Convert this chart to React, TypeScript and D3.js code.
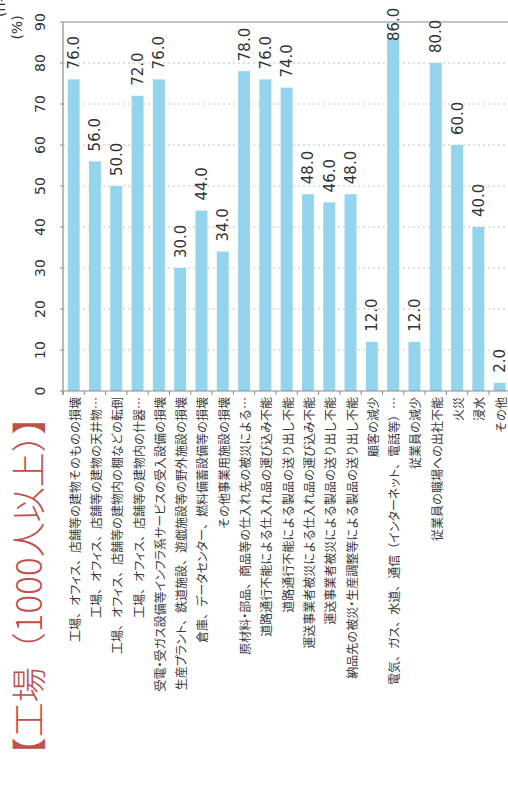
import React from "react";
import * as d3 from "d3";

const categories: string[] = [
  "工場、オフィス、店舗等の建物そのものの損壊",
  "工場、オフィス、店舗等の建物の天井物…",
  "工場、オフィス、店舗等の建物内の棚などの転倒",
  "工場、オフィス、店舗等の建物内の什器…",
  "受電・受ガス設備等インフラ系サービスの受入設備の損壊",
  "生産プラント、鉄道施設、遊戯施設等の野外施設の損壊",
  "倉庫、データセンター、燃料備蓄設備等の損壊",
  "その他事業用施設の損壊",
  "原材料・部品、商品等の仕入れ先の被災による…",
  "道路通行不能による仕入れ品の運び込み不能",
  "道路通行不能による製品の送り出し不能",
  "運送事業者被災による仕入れ品の運び込み不能",
  "運送事業者被災による製品の送り出し不能",
  "納品先の被災・生産調整等による製品の送り出し不能",
  "顧客の減少",
  "電気、ガス、水道、通信（インターネット、電話等）…",
  "従業員の減少",
  "従業員の職場への出社不能",
  "火災",
  "浸水",
  "その他",
];

const values: number[] = [
  76, 56, 50, 72, 76, 30, 44, 34, 78, 76, 74, 48, 46, 48, 12, 86, 12, 80, 60, 40, 2,
];

const yTicks: number[] = [0, 10, 20, 30, 40, 50, 60, 70, 80, 90];
const gridTicks: number[] = [10, 20, 30, 40, 50, 60, 70, 80];

const title = "【工場（1000人以上）】";
const unitLabel = "(%)";
const nLabel = "(n=50)";

const W = 508;
const H = 787;
const plotLeft = 63;
const plotTop = 22;
const plotBottom = 391;

const CJK = "'Noto Sans CJK JP', 'Noto Sans', sans-serif";
const LAT = "'DejaVu Sans', Verdana, sans-serif";

// split into runs: katakana (proportional) vs. the rest
function splitRuns(s: string): { t: string; kana: boolean }[] {
  const runs: { t: string; kana: boolean }[] = [];
  for (const ch of Array.from(s)) {
    const k = /[\u30A0-\u30FF]/.test(ch);
    const last = runs[runs.length - 1];
    if (last && last.kana === k) last.t += ch;
    else runs.push({ t: ch, kana: k });
  }
  return runs;
}

export default function App() {
  const x = d3
    .scaleBand<string>()
    .domain(categories)
    .range([plotLeft, plotLeft + 21.3 * categories.length])
    .paddingInner(0.44)
    .paddingOuter(0.22);
  const y = d3.scaleLinear().domain([0, 90]).range([plotBottom, plotTop]);
  const step = x.step();
  const bw = x.bandwidth();
  const gap = (step - bw) / 2;
  const fmt = d3.format(".1f");

  const boundaries = categories.map((c) => (x(c) as number) - gap);
  boundaries.push((x(categories[categories.length - 1]) as number) + bw + gap);

  return (
    <svg
      width={W}
      height={H}
      style={{ position: "absolute", left: 0, top: 0, background: "#fff" }}
    >
      {/* gridlines */}
      {gridTicks.map((t) => (
        <line
          key={"g" + t}
          x1={plotLeft}
          x2={W}
          y1={y(t)}
          y2={y(t)}
          stroke="#c4c4c4"
          strokeWidth={1}
          strokeDasharray="2,3"
        />
      ))}
      {/* bars */}
      {categories.map((c, i) => (
        <rect
          key={"b" + i}
          x={x(c)}
          y={y(values[i])}
          width={bw}
          height={y(0) - y(values[i])}
          fill="#94d4ec"
        />
      ))}
      {/* axes */}
      <line x1={plotLeft} x2={W} y1={plotTop} y2={plotTop} stroke="#8c8c8c" strokeWidth={1.2} />
      <line x1={plotLeft} x2={W} y1={plotBottom} y2={plotBottom} stroke="#8c8c8c" strokeWidth={1.2} />
      <line x1={plotLeft} x2={plotLeft} y1={plotTop} y2={plotBottom + 4} stroke="#8c8c8c" strokeWidth={1.2} />
      {yTicks.map((t) => (
        <line
          key={"yt" + t}
          x1={plotLeft - 3}
          x2={plotLeft}
          y1={y(t)}
          y2={y(t)}
          stroke="#8c8c8c"
        />
      ))}
      {boundaries.map((bx, i) => (
        <line
          key={"xt" + i}
          x1={bx}
          x2={bx}
          y1={plotBottom}
          y2={plotBottom + 4}
          stroke="#8c8c8c"
        />
      ))}
      {/* y tick labels */}
      {yTicks.map((t) => (
        <text
          key={"yl" + t}
          transform={`translate(45,${y(t)}) rotate(-90)`}
          textAnchor="middle"
          fontFamily={LAT}
          fontSize={14}
          fill="#333"
        >
          {t}
        </text>
      ))}
      {/* unit labels */}
      <text
        transform={`translate(22,27.5) rotate(-90)`}
        textAnchor="middle"
        fontFamily={LAT}
        fontSize={14}
        fill="#333"
      >
        {unitLabel}
      </text>
      <text
        transform={`translate(5,17) rotate(-90)`}
        textAnchor="start"
        fontFamily={LAT}
        fontSize={14}
        fill="#333"
      >
        {nLabel}
      </text>
      {/* value labels */}
      {categories.map((c, i) => {
        const top = y(values[i]);
        const start = Math.max(top - 10, 41);
        const cx = (x(c) as number) + bw / 2;
        return (
          <text
            key={"v" + i}
            transform={`translate(${cx + 5.5},${start}) rotate(-90)`}
            textAnchor="start"
            fontFamily={LAT}
            fontSize={15}
            fill="#333"
          >
            {fmt(values[i])}
          </text>
        );
      })}
      {/* category labels */}
      {categories.map((c, i) => {
        const cx = (x(c) as number) + bw / 2;
        return (
          <text
            key={"c" + i}
            transform={`translate(${cx},397) rotate(-90)`}
            textAnchor="end"
            dominantBaseline="central"
            fontFamily={CJK}
            fontSize={12}
            fill="#3a3a3a"
          >
            {splitRuns(c).map((r, j) => (
              <tspan
                key={j}
                style={r.kana ? { fontFeatureSettings: "'palt'" } : undefined}
              >
                {r.t}
              </tspan>
            ))}
          </text>
        );
      })}
      {/* title */}
      <text
        transform={`translate(26,586) rotate(-90)`}
        textAnchor="middle"
        dominantBaseline="central"
        fontFamily={CJK}
        fontSize={35}
        fontWeight={300}
        fill="#c0504d"
      >
        {title}
      </text>
    </svg>
  );
}
